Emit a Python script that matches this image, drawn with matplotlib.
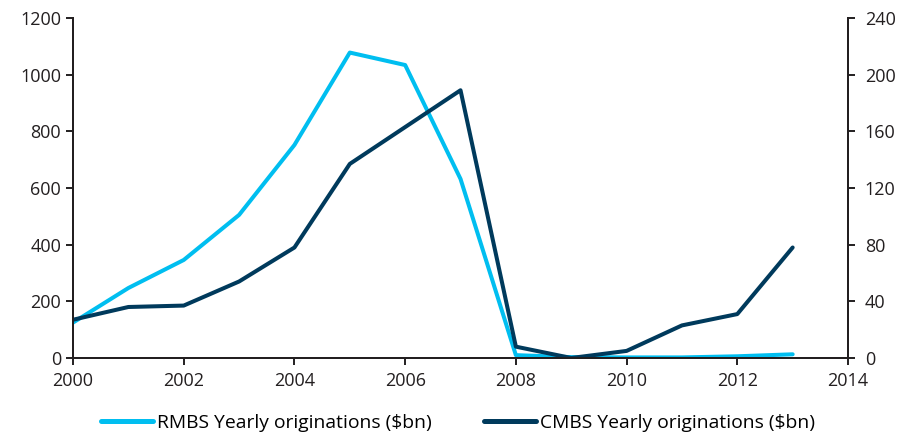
import matplotlib
matplotlib.use("Agg")
import matplotlib.pyplot as plt

years = list(range(2000, 2014))
rmbs = [125, 247, 346, 505, 752, 1078, 1034, 632, 10, 3, 2, 2, 6, 13]
cmbs = [27, 36, 37, 54, 78, 137, 163, 189, 8, 0, 5, 23, 31, 78]

x_ticks = list(range(2000, 2015, 2))
left_ticks = list(range(0, 1201, 200))
right_ticks = list(range(0, 241, 40))

plt.rcParams['font.family'] = ['Open Sans', 'DejaVu Sans']

light_blue = '#00BEF0'
navy = '#003A5C'
axis_col = '#231F20'

fig = plt.figure(figsize=(9.15, 4.37), dpi=100)
ax = fig.add_axes([0.0798, 0.1808, 0.8470, 0.7780])
ax2 = ax.twinx()

l1, = ax.plot(years, rmbs, color=light_blue, lw=2.9, solid_capstyle='round',
              label='RMBS Yearly originations ($bn)')
l2, = ax2.plot(years, cmbs, color=navy, lw=2.9, solid_capstyle='round',
               label='CMBS Yearly originations ($bn)')

ax.set_xlim(2000, 2014)
ax.set_ylim(0, 1200)
ax2.set_ylim(0, 240)
ax.set_xticks(x_ticks)
ax.set_yticks(left_ticks)
ax2.set_yticks(right_ticks)

for a in (ax, ax2):
    a.spines['top'].set_visible(False)
    for s in a.spines.values():
        s.set_color(axis_col)
        s.set_linewidth(1.4)
    a.tick_params(direction='out', length=5, width=1.4, color=axis_col,
                  labelcolor=axis_col, labelsize=13)
ax.tick_params(axis='x', pad=5)
ax2.tick_params(axis='y', pad=7)

leg = fig.legend(handles=[l1, l2], loc='center', bbox_to_anchor=(0.501, 0.032),
                 ncol=2, frameon=False, fontsize=13.9, handlelength=2.65,
                 handletextpad=0.25, columnspacing=2.7)
for h in leg.get_lines():
    h.set_linewidth(3.6)

fig.savefig('out.png', dpi=100)
